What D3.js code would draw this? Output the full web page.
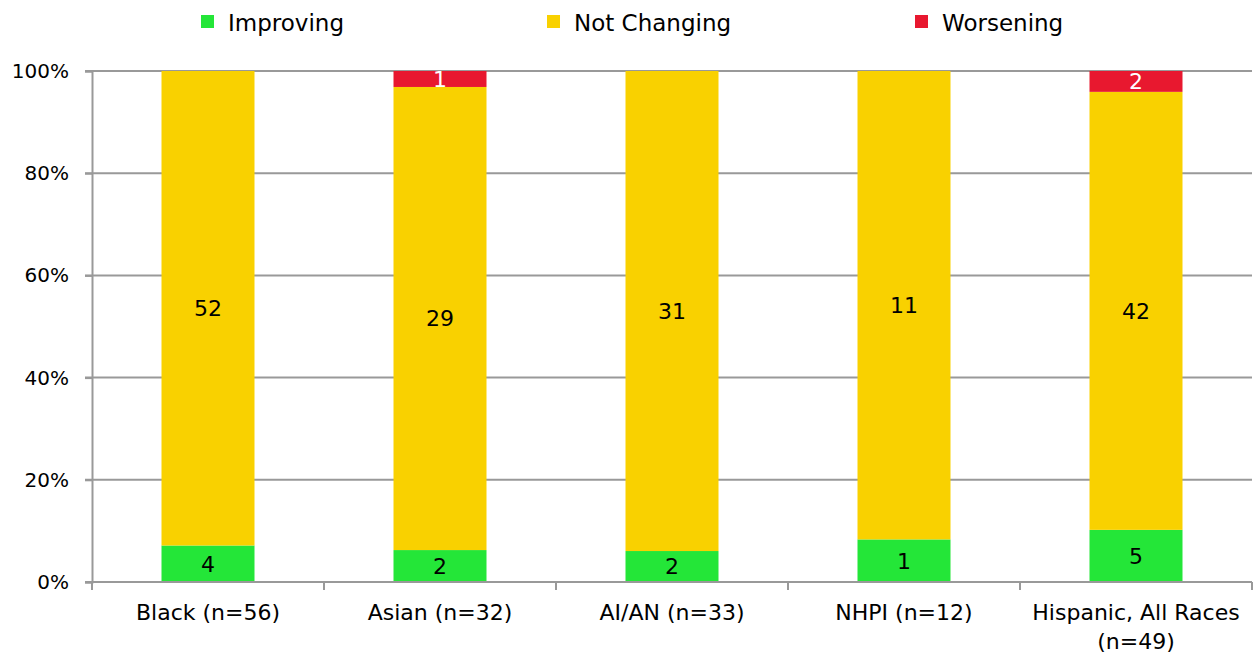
<!DOCTYPE html>
<html>
<head>
<meta charset="utf-8">
<script src="https://cdn.jsdelivr.net/npm/d3@7"></script>
<style>
  html, body { margin: 0; padding: 0; background: #fff; }
  svg { display: block; font-family: "DejaVu Sans", Verdana, sans-serif; }
</style>
</head>
<body>
<svg id="chart" width="1256" height="659"></svg>
<script>
// Trend counts by population group
const categories = ["Black (n=56)", "Asian (n=32)", "AI/AN (n=33)", "NHPI (n=12)", "Hispanic, All Races (n=49)"];
const improving   = [4, 2, 2, 1, 5];
const notChanging = [52, 29, 31, 11, 42];
const worsening   = [0, 1, 0, 0, 2];
const seriesNames = ["Improving", "Not Changing", "Worsening"];
const seriesColors = ["#24E638", "#F9D100", "#E8182F"];
const yTicks = [0, 0.2, 0.4, 0.6, 0.8, 1.0];

const svg = d3.select("#chart");
const margin = { left: 92, right: 4, top: 71, bottom: 77 };
const W = 1256, H = 659;

const x = d3.scaleBand().domain(categories).range([margin.left, W - margin.right]).paddingInner(0).paddingOuter(0);
const y = d3.scaleLinear().domain([0, 1]).range([H - margin.bottom, margin.top]);

// Build rows and normalise to 100%
const rows = categories.map((c, i) => {
  const total = improving[i] + notChanging[i] + worsening[i];
  return { cat: c, Improving: improving[i], "Not Changing": notChanging[i], Worsening: worsening[i], total };
});
const stack = d3.stack().keys(seriesNames)
  .value((d, k) => d[k] / d.total);
const layers = stack(rows);

// Horizontal gridlines
svg.append("g").selectAll("line").data(yTicks).join("line")
  .attr("x1", margin.left - 7).attr("x2", W - margin.right)
  .attr("y1", d => y(d)).attr("y2", d => y(d))
  .attr("stroke", "#999").attr("stroke-width", 2);

// Y axis
const yAxis = svg.append("g").attr("transform", `translate(${margin.left},0)`)
  .call(d3.axisLeft(y).tickValues(yTicks).tickFormat(d3.format(".0%")).tickSize(7).tickPadding(16));
yAxis.select(".domain").attr("stroke", "#999").attr("stroke-width", 2);
yAxis.selectAll(".tick line").attr("stroke", "#999").attr("stroke-width", 2);
yAxis.selectAll("text").attr("font-size", 20).attr("fill", "#000")
  .attr("font-family", "DejaVu Sans, sans-serif");

// Bars
const barW = 93;
const bx = d => x(d.data.cat) + (x.bandwidth() - barW) / 2;
layers.forEach((layer, li) => {
  svg.append("g").selectAll("rect").data(layer).join("rect")
    .attr("x", bx)
    .attr("width", barW)
    .attr("y", d => y(d[1]))
    .attr("height", d => Math.max(0, y(d[0]) - y(d[1])))
    .attr("fill", seriesColors[li]);
});

// X axis
const xAxisY = y(0);
const xg = svg.append("g");
xg.append("line").attr("x1", margin.left - 7).attr("x2", W - margin.right)
  .attr("y1", xAxisY).attr("y2", xAxisY).attr("stroke", "#999").attr("stroke-width", 2);
const bounds = categories.map(c => x(c)).concat([x(categories[categories.length - 1]) + x.bandwidth()]);
xg.selectAll("line.tk").data(bounds).join("line").attr("class", "tk")
  .attr("x1", d => d).attr("x2", d => d)
  .attr("y1", xAxisY).attr("y2", xAxisY + 8)
  .attr("stroke", "#999").attr("stroke-width", 2);

// Category labels (wrapped where needed)
const labelLines = {
  "Hispanic, All Races (n=49)": ["Hispanic, All Races", "(n=49)"]
};
categories.forEach(c => {
  const lines = labelLines[c] || [c];
  const t = svg.append("text").attr("text-anchor", "middle").attr("font-size", 22).attr("fill", "#000");
  lines.forEach((ln, i) => {
    t.append("tspan").attr("x", x(c) + x.bandwidth() / 2).attr("y", 620 + i * 29).text(ln);
  });
});

// Value labels inside segments
layers.forEach((layer, li) => {
  svg.append("g").selectAll("text").data(layer.filter(d => d.data[seriesNames[li]] > 0)).join("text")
    .attr("x", d => x(d.data.cat) + x.bandwidth() / 2)
    .attr("y", d => (y(d[0]) + y(d[1])) / 2)
    .attr("dy", "0.36em")
    .attr("text-anchor", "middle")
    .attr("font-size", 22)
    .attr("fill", li === 2 ? "#fff" : "#000")
    .text(d => d.data[seriesNames[li]]);
});

// Legend
const legendX = [201, 547, 915];
const lg = svg.append("g");
seriesNames.forEach((name, i) => {
  lg.append("rect").attr("x", legendX[i]).attr("y", 15).attr("width", 13).attr("height", 13)
    .attr("fill", seriesColors[i]);
  lg.append("text").attr("x", legendX[i] + 27).attr("y", 31)
    .attr("font-size", 23).attr("fill", "#000").text(name);
});
</script>
</body>
</html>
